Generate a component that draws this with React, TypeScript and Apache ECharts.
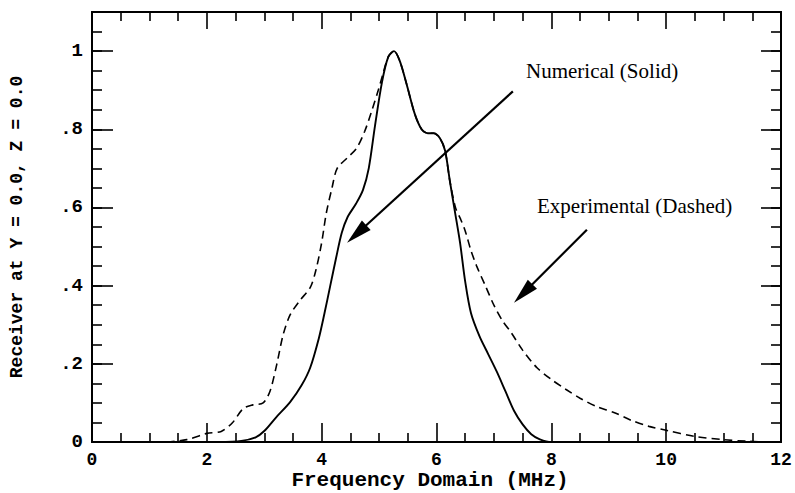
import { useEffect, useRef } from "react";
import * as echarts from "echarts";

// Frequency (MHz), receiver amplitude
const numericalCurve: [number, number][] = [
  [2.2, 0], [2.6, 0.003], [2.85, 0.012], [3.0, 0.028], [3.2, 0.062], [3.45, 0.102],
  [3.65, 0.145], [3.8, 0.19], [3.95, 0.265], [4.05, 0.33], [4.15, 0.4], [4.25, 0.47],
  [4.35, 0.535], [4.45, 0.575], [4.6, 0.61], [4.72, 0.645], [4.82, 0.7], [4.93, 0.81],
  [5.05, 0.92], [5.16, 0.985], [5.26, 1.0], [5.36, 0.975], [5.48, 0.915], [5.62, 0.84],
  [5.74, 0.8], [5.85, 0.79], [5.95, 0.79], [6.06, 0.777], [6.15, 0.745], [6.23, 0.67],
  [6.32, 0.59], [6.41, 0.51], [6.5, 0.41], [6.6, 0.33], [6.75, 0.27], [6.9, 0.225],
  [7.05, 0.18], [7.2, 0.13], [7.35, 0.08], [7.5, 0.045], [7.65, 0.02], [7.8, 0.007],
  [8.0, 0], [8.3, 0],
];

const experimentalCurve: [number, number][] = [
  [1.3, 0], [1.65, 0.006], [2.0, 0.022], [2.25, 0.027], [2.45, 0.05], [2.63, 0.085],
  [2.8, 0.095], [2.98, 0.1], [3.1, 0.13], [3.22, 0.2], [3.33, 0.275], [3.45, 0.325],
  [3.62, 0.362], [3.8, 0.395], [3.9, 0.44], [4.0, 0.51], [4.08, 0.585], [4.18, 0.65],
  [4.27, 0.7], [4.44, 0.726], [4.61, 0.752], [4.75, 0.795], [4.87, 0.846], [4.98, 0.897],
  [5.07, 0.943], [5.16, 0.985], [5.26, 1.0], [5.36, 0.975], [5.48, 0.915], [5.62, 0.84],
  [5.74, 0.8], [5.85, 0.79], [5.95, 0.79], [6.06, 0.777], [6.15, 0.745], [6.23, 0.67],
  [6.33, 0.6], [6.42, 0.57], [6.5, 0.54], [6.6, 0.49], [6.7, 0.45], [6.85, 0.4],
  [7.0, 0.35], [7.15, 0.31], [7.3, 0.28], [7.5, 0.235], [7.75, 0.19], [8.0, 0.16],
  [8.25, 0.135], [8.5, 0.112], [8.8, 0.09], [9.1, 0.075], [9.4, 0.055], [9.7, 0.04],
  [10.0, 0.03], [10.5, 0.014], [11.0, 0.006], [11.4, 0.002], [11.7, 0],
];

// arrow annotations: [start, arrowhead centre] in data coordinates
const numericalArrow: [number, number][] = [[7.33, 0.897], [4.61, 0.532]];
const experimentalArrow: [number, number][] = [[8.62, 0.543], [7.51, 0.38]];

const xTitle = "Frequency Domain (MHz)";
const yTitle = "Receiver at Y = 0.0, Z = 0.0";
const numericalLabel = "Numerical (Solid)";
const experimentalLabel = "Experimental (Dashed)";

export default function App() {
  const ref = useRef<HTMLDivElement>(null);

  useEffect(() => {
    const chart = echarts.init(ref.current!, null, { renderer: "svg" });
    const mono = "'Liberation Mono', 'DejaVu Sans Mono', monospace";
    const serif = "'Liberation Serif', 'DejaVu Serif', serif";
    const axisLine = { show: true, onZero: false, lineStyle: { color: "#000", width: 2 } };
    const noSplit = { show: false };
    const yFmt = (v: number) => {
      if (Math.abs(v) < 1e-9) return "0";
      if (Math.abs(v - 1) < 1e-9) return "1";
      if (v > 1.05) return "";
      return "." + Math.round(v * 10);
    };
    const tickStyle = { color: "#000", width: 1.6 };

    const xBase = (position: string, len: number, minorLen: number, showLabel: boolean) => ({
      type: "value",
      position,
      min: 0,
      max: 12,
      interval: 2,
      axisLine,
      splitLine: noSplit,
      axisTick: { show: true, inside: true, length: len, lineStyle: tickStyle },
      minorTick: { show: true, splitNumber: 4, length: minorLen, lineStyle: tickStyle },
      minorSplitLine: { show: false },
      axisLabel: showLabel
        ? { show: true, margin: 9, color: "#000", fontFamily: mono, fontWeight: "bold", fontSize: 18 }
        : { show: false },
    });

    const yBase = (position: string, interval: number, len: number, showLabel: boolean) => ({
      type: "value",
      position,
      min: 0,
      max: 1.1,
      interval,
      axisLine,
      splitLine: noSplit,
      axisTick: { show: true, inside: true, length: len, lineStyle: tickStyle },
      axisLabel: showLabel
        ? { show: true, margin: 9, color: "#000", fontFamily: mono, fontWeight: "bold", fontSize: 19, formatter: yFmt }
        : { show: false },
    });

    const bottomAxis: any = {
      ...xBase("bottom", 19, 9, true),
      name: xTitle,
      nameLocation: "middle",
      nameGap: 28,
      nameMoveOverlap: false,
      nameTextStyle: { color: "#000", fontFamily: mono, fontWeight: "bold", fontSize: 21, padding: [0, 13, 0, 0] },
    };
    const leftAxis: any = {
      ...yBase("left", 0.2, 21, true),
      name: yTitle,
      nameLocation: "middle",
      nameRotate: 90,
      nameGap: 66,
      nameMoveOverlap: false,
      nameTextStyle: { color: "#000", fontFamily: mono, fontWeight: "bold", fontSize: 18 },
    };

    const arrowLine = (pts: [number, number][]) => [
      { coord: pts[0], symbol: "none" },
      { coord: pts[1], symbol: "triangle", symbolSize: [13, 26] },
    ];

    chart.setOption({
      animation: false,
      backgroundColor: "#fff",
      grid: { left: 92, right: 14, top: 12, bottom: 51, containLabel: false, outerBoundsMode: "none" },
      xAxis: [bottomAxis, xBase("top", 17, 9, false)],
      yAxis: [
        leftAxis,
        yBase("left", 0.05, 10, false),
        yBase("right", 0.2, 20, false),
        yBase("right", 0.05, 10, false),
      ],
      series: [
        {
          name: "Numerical",
          type: "line",
          xAxisIndex: 0,
          yAxisIndex: 0,
          data: numericalCurve,
          smooth: 0.3,
          showSymbol: false,
          silent: true,
          lineStyle: { color: "#000", width: 1.9, type: "solid" },
          markLine: {
            silent: true,
            animation: false,
            label: { show: false },
            lineStyle: { color: "#000", width: 2.2, type: "solid" },
            itemStyle: { color: "#000" },
            emphasis: { disabled: true },
            data: [arrowLine(numericalArrow), arrowLine(experimentalArrow)],
          },
        },
        {
          name: "Experimental",
          type: "line",
          xAxisIndex: 0,
          yAxisIndex: 0,
          data: experimentalCurve,
          smooth: 0.3,
          showSymbol: false,
          silent: true,
          lineStyle: { color: "#000", width: 1.6, type: [8, 5] },
        },
      ],
      graphic: [
        {
          type: "text",
          x: 526,
          y: 71,
          style: { text: numericalLabel, fill: "#000", fontFamily: serif, fontSize: 21, verticalAlign: "middle", align: "left" },
        },
        {
          type: "text",
          x: 537,
          y: 206,
          style: { text: experimentalLabel, fill: "#000", fontFamily: serif, fontSize: 21, verticalAlign: "middle", align: "left" },
        },
      ],
    });

    return () => chart.dispose();
  }, []);

  return (
    <div
      ref={ref}
      style={{ position: "fixed", left: 0, top: 0, width: 795, height: 493, background: "#fff" }}
    />
  );
}
